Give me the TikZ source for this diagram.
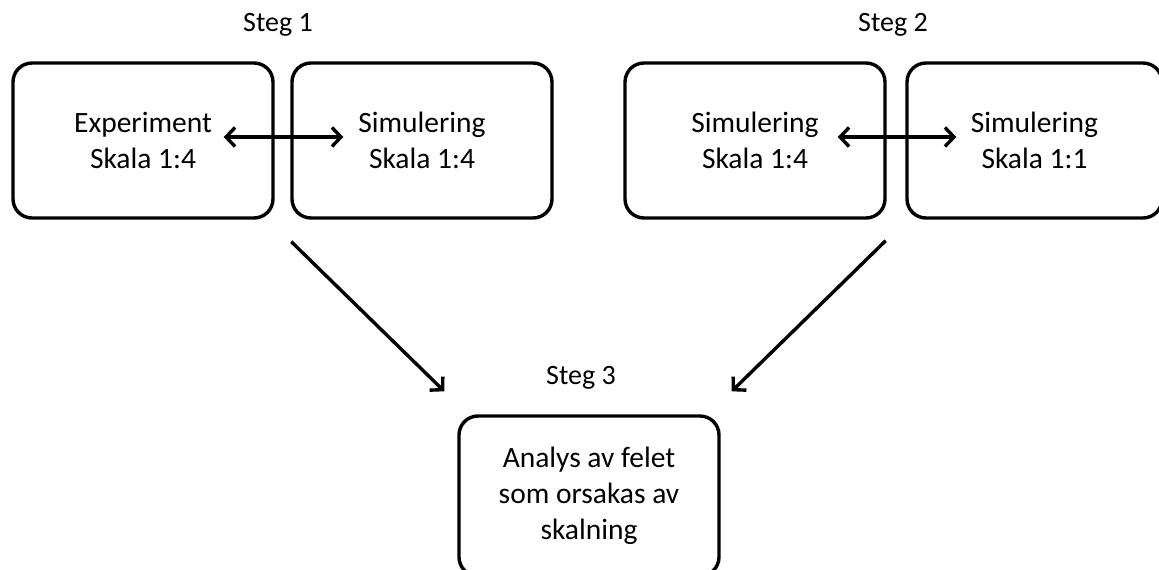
\documentclass[tikz,border=0pt]{standalone}
\usepackage{fontspec}
\setmainfont{Carlito}
\usetikzlibrary{arrows.meta}
\begin{document}
\begin{tikzpicture}[x=1pt,y=-1pt,
  box/.style={draw=black, line width=3.4pt, rounded corners=19pt, rectangle,
    minimum width=260pt, minimum height=155pt, inner sep=0pt, align=center,
    font=\fontsize{29.5}{36}\selectfont, text=black},
  steglabel/.style={inner sep=0pt, font=\fontsize{28}{34}\selectfont, text=black},
  tip/.style={Straight Barb[length=9pt,width=19pt,line width=3.4pt]},
  arr/.style={line width=3.4pt, -{Straight Barb[length=9pt,width=19pt,line width=3.4pt]}},
  dbl/.style={line width=3.4pt, {Straight Barb[length=9pt,width=19pt,line width=3.4pt]}-{Straight Barb[length=9pt,width=19pt,line width=3.4pt]}}]
\useasboundingbox (0,0) rectangle (1159,570);
\fill[white] (0,0) rectangle (1159,570);

\node[steglabel] (s1) at (278,25) {Steg 1};
\node[steglabel] (s2) at (893,25) {Steg 2};
\node[steglabel] (s3) at (581,378) {Steg 3};

\node[box] (a) at (143,140.5) {Experiment\\Skala 1:4};
\node[box] (b) at (422,140.5) {Simulering\\Skala 1:4};
\node[box] (c) at (755,140.5) {Simulering\\Skala 1:4};
\node[box, minimum width=255pt] (d) at (1034.5,140.5) {Simulering\\Skala 1:1};
\node[box, minimum height=160pt] (e) at (589,496) {Analys av felet\\som orsakas av\\skalning};

\draw[dbl] ([xshift=-51pt,yshift=3.5pt]a.east) -- ([xshift=53pt,yshift=3.5pt]b.west);
\draw[dbl] ([xshift=-49pt,yshift=3.5pt]c.east) -- ([xshift=51pt,yshift=3.5pt]d.west);

\draw[arr] ([xshift=1pt,yshift=-22pt]b.south west) -- ([xshift=-13pt,yshift=23pt]e.north west);
\draw[arr] ([xshift=-1pt,yshift=-21pt]c.south east) -- ([xshift=11pt,yshift=23pt]e.north east);
\end{tikzpicture}
\end{document}
